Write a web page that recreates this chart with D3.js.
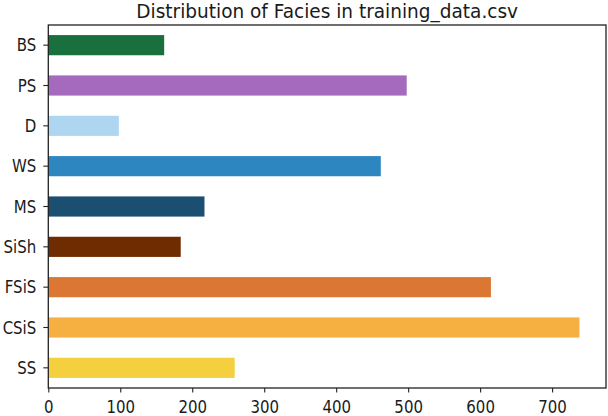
<!DOCTYPE html>
<html>
<head>
<meta charset="utf-8">
<script src="https://cdn.jsdelivr.net/npm/d3@7"></script>
<style>
  body { margin: 0; background: #fff; }
  svg text { font-family: "DejaVu Sans", sans-serif; fill: #1a1a1a; }
</style>
</head>
<body>
<svg id="chart" width="608" height="416"></svg>
<script>
// facies names, bottom to top as drawn
var facies = ["SS", "CSiS", "FSiS", "SiSh", "MS", "WS", "D", "PS", "BS"];
var counts = [259, 738, 615, 184, 217, 462, 98, 498, 161]; // rows per facies
var faciesColors = ["#F4D03F", "#F5B041", "#DC7633", "#6E2C00", "#1B4F72",
                    "#2E86C1", "#AED6F1", "#A569BD", "#196F3D"];
var xTicks = [0, 100, 200, 300, 400, 500, 600, 700];

var svg = d3.select("#chart");
var margin = {top: 25, right: 2, bottom: 28, left: 48.3};
var width = 608 - margin.left - margin.right;
var height = 416 - margin.top - margin.bottom;
var stretch = 1.12; //reference text is a bit taller than wide

var chartGroup = svg.append("g")
    .attr("transform", `translate(${margin.left}, ${margin.top})`);

// pandas barh leaves 5% room past the longest bar
var xLinearScale = d3.scaleLinear()
    .domain([0, d3.max(counts) * 1.05])
    .range([0, width]);

var yBandScale = d3.scaleBand()
    .domain(facies.slice().reverse()) //top of chart is last facies
    .range([0, height])
    .paddingInner(0.5)
    .paddingOuter(0.25);

chartGroup.append("g").selectAll("rect")
    .data(facies)
    .enter()
    .append("rect")
    .attr("x", 0)
    .attr("y", d => yBandScale(d))
    .attr("width", (d, i) => xLinearScale(counts[i]))
    .attr("height", yBandScale.bandwidth())
    .attr("fill", (d, i) => faciesColors[i]);

var bottomAxis = d3.axisBottom(xLinearScale)
    .tickValues(xTicks)
    .tickSize(4.5);
var leftAxis = d3.axisLeft(yBandScale)
    .tickSize(5);

var xAxis = chartGroup.append("g")
    .attr("transform", `translate(0, ${height})`)
    .call(bottomAxis);
var yAxis = chartGroup.append("g")
    .call(leftAxis);

[xAxis, yAxis].forEach(function (ax) {
    ax.select(".domain").remove();
    ax.selectAll("line").attr("stroke", "#222").attr("stroke-width", 1.1);
    ax.selectAll("text").style("font-size", "15px").attr("fill", "#1a1a1a");
});
xAxis.selectAll("text")
    .attr("y", 0).attr("dy", null)
    .attr("transform", `translate(0, 24.5) scale(1, ${stretch})`);
yAxis.selectAll("text")
    .attr("x", 0).attr("dy", null)
    .attr("transform", `translate(-12, 6.1) scale(1, ${stretch})`);

// box around the plot area
chartGroup.append("rect")
    .attr("x", 0)
    .attr("y", 0)
    .attr("width", width)
    .attr("height", height)
    .attr("fill", "none")
    .attr("stroke", "#222")
    .attr("stroke-width", 1.3);

svg.append("text")
    .attr("transform", `translate(${margin.left + width / 2}, 17.5) scale(1, 1.05)`)
    .attr("text-anchor", "middle")
    .style("font-size", "18.5px")
    .text("Distribution of Facies in training_data.csv");
</script>
</body>
</html>
